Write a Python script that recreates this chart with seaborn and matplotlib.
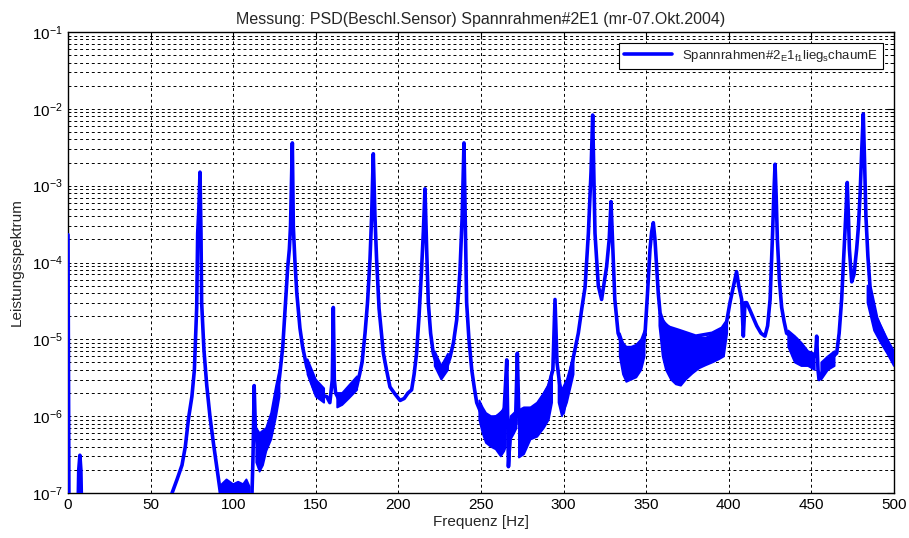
import numpy as np
import pandas as pd
import matplotlib
matplotlib.use('Agg')
import matplotlib.pyplot as plt
import matplotlib.ticker as mticker
import seaborn as sns

# Werte (Frequenz in Hz, PSD)
freq = [0.0, 0.6, 6.0, 6.5, 7.2, 7.8, 8.3,
        61, 63, 66, 69, 71, 73, 75, 76.5, 77.9, 78.5, 79.2, 79.9, 80.2, 80.5, 80.9,
        82.3, 84, 86, 88, 90, 92, 94,
        111, 112, 112.7, 113.5, 115, 117, 119, 121, 124, 126, 127, 128, 129, 130, 131,
        132, 133, 134, 134.7, 135.8, 136.4, 137.4, 138.5, 140.4, 142, 144.5, 147, 149.5,
        153, 156.6, 158.5, 160.0, 160.6, 161.2, 162, 165, 170, 174.7,
        176.5, 178, 179.8, 181.3, 182.8, 183.8, 184.8, 185.8, 186.8, 188.3, 190.9, 192.8,
        194.9, 197.5, 201, 203.5, 205.8, 208, 209.5, 211, 212.5, 214, 215.1, 216.1,
        217.1, 218.1, 219.5, 221.1, 223.5, 226.2, 229, 231.2, 233.3, 235.3, 237.3, 238.6,
        239.7, 240.5, 241.3, 242.7, 244.4, 246, 247.4, 250, 255, 260, 264, 265.6,
        266.6, 268, 271, 272, 273, 276, 283.7, 290.8, 293.5, 294.8, 296, 299.8,
        303.9, 308.9, 311, 313, 315, 316.6, 317.6, 318.3, 319, 321, 323,
        326, 327.6, 328.7, 329.8, 331, 333, 336, 340, 345, 348, 349.3, 350.8,
        352.3, 353.3, 354.3, 355.3, 356.3, 357.3, 358.4, 361, 370, 380, 390,
        396, 398.7, 400.7, 402.7, 404.7, 406, 407.8, 408.8, 409.8, 410.8, 412.8,
        416.9, 419.5, 421.9, 423.5, 425, 426.5, 427.3, 428, 428.7, 429.4, 430.6,
        432, 433.5, 435, 441, 447, 452.5, 453.2, 454, 454.6, 459.2, 465.3,
        466.8, 468.3, 469.3, 470.3, 471, 471.7, 472.4, 473, 474.4, 475.8, 477.4,
        478.5, 479.5, 480.5, 481.4, 482.2, 483, 484.2, 485.5, 487.5, 489.5, 491.5,
        493.5, 496.5, 500]
psd = [2.3e-4, 5e-8, 5e-8, 2e-7, 3.1e-7, 2e-7, 5e-8,
       5e-8, 1.0e-7, 1.5e-7, 2.3e-7, 4e-7, 9.5e-7, 1.8e-6, 4e-6, 2.6e-5, 2.4e-4, 5e-4, 1.5e-3, 6e-4, 2.4e-4, 3e-5,
       7.2e-6, 2.5e-6, 9.6e-7, 4.5e-7, 2.2e-7, 1.1e-7, 5e-8,
       5e-8, 3e-7, 2.5e-6, 6e-7, 4e-7, 3e-7, 5e-7, 6e-7, 1e-6, 1.8e-6, 2.4e-6, 3.2e-6, 5e-6, 8e-6, 1.8e-5,
       4e-5, 8.7e-5, 1.5e-4, 3e-4, 3.6e-3, 2.9e-4, 1e-4, 4e-5, 1.4e-5, 8e-6, 4.4e-6, 3e-6, 2.1e-6,
       1.9e-6, 1.8e-6, 1.5e-6, 3e-6, 2.6e-5, 3e-6, 2e-6, 1.5e-6, 1.9e-6, 2.4e-6,
       3.5e-6, 5e-6, 1.2e-5, 3e-5, 1.1e-4, 4e-4, 2.6e-3, 4e-4, 1.1e-4, 2.5e-5, 6.6e-6, 4e-6,
       2.4e-6, 2e-6, 1.6e-6, 1.7e-6, 2e-6, 2.2e-6, 3.5e-6, 6.6e-6, 2e-5, 8e-5, 2.5e-4, 9.1e-4,
       1.5e-4, 3e-5, 1.2e-5, 6.6e-6, 4.5e-6, 3.6e-6, 4.2e-6, 5.8e-6, 9e-6, 1.8e-5, 8e-5, 4e-4,
       3.6e-3, 3e-4, 3e-5, 1e-5, 4e-6, 2.3e-6, 1.5e-6, 1.1e-6, 9e-7, 1e-6, 1.2e-6, 5.4e-6,
       2.2e-7, 8e-7, 1e-6, 6.6e-6, 8e-7, 1.2e-6, 1.3e-6, 2.4e-6, 4e-6, 3.3e-5, 5e-6, 1.1e-6,
       3.6e-6, 1.2e-5, 2.5e-5, 4.8e-5, 2.4e-4, 1.5e-3, 8.3e-3, 1.5e-3, 2.4e-4, 5e-5, 3.3e-5,
       8.7e-5, 2e-4, 6.2e-4, 1.5e-4, 3.3e-5, 1.2e-5, 8e-6, 6e-6, 6e-6, 8e-6, 1.2e-5, 4e-5,
       1.5e-4, 2.5e-4, 3.3e-4, 2e-4, 8.7e-5, 4e-5, 2.2e-5, 1.5e-5, 1.3e-5, 1.1e-5, 1.2e-5,
       1.4e-5, 1.7e-5, 3e-5, 4.8e-5, 7.6e-5, 5e-5, 3.3e-5, 1.1e-5, 3e-5, 3e-5, 2.4e-5,
       1.5e-5, 1.2e-5, 1.1e-5, 1.5e-5, 3.3e-5, 2.4e-4, 8e-4, 1.9e-3, 7e-4, 2e-4, 6e-5,
       2.6e-5, 1.7e-5, 1.2e-5, 1e-5, 5.8e-6, 6e-6, 1.1e-5, 4e-6, 3e-6, 5e-6, 6.6e-6,
       1.2e-5, 3.3e-5, 9e-5, 2.4e-4, 5e-4, 1.1e-3, 4e-4, 1.5e-4, 5.6e-5, 7e-5, 1.5e-4,
       3e-4, 8e-4, 3e-3, 8.6e-3, 2e-3, 4e-4, 1.2e-4, 4.8e-5, 3e-5, 1.9e-5, 1.5e-5,
       1.2e-5, 8e-6, 5.8e-6]

# Rauschbaender (untere / obere Huellkurve), NaN trennt die Abschnitte
band_freq = [93, 96, 100, 103, 106, 108, 110, np.nan,
             114, 116, 118, 120, 123, 126, 128, np.nan,
             145, 150, 155, np.nan,
             163, 166, 170, 175, np.nan,
             222, 226, 230, np.nan,
             249, 251, 253, 256, 259, 262, 264, 265, np.nan,
             267, 268, 270, 271.5, np.nan,
             273, 276, 280, 284, 288, 291, 293, np.nan,
             297, 299, 302, 306, np.nan,
             334, 336, 338, 341, 344, 347, 349, np.nan,
             358, 360, 362, 365, 368, 371, 374, 378, 382, 386, 390, 394, 397, 399, np.nan,
             436, 440, 444, 448, 452, np.nan,
             456, 460, 464, np.nan,
             484, 488, 492, 496, 500]
band_low = [5e-8, 5e-8, 5e-8, 5e-8, 5e-8, 5e-8, 5e-8, np.nan,
            2.5e-7, 1.9e-7, 2.3e-7, 3.5e-7, 5e-7, 1.0e-6, 1.8e-6, np.nan,
            3.5e-6, 1.8e-6, 1.5e-6, np.nan,
            1.3e-6, 1.4e-6, 1.7e-6, 2.2e-6, np.nan,
            4.5e-6, 3e-6, 4e-6, np.nan,
            9e-7, 6e-7, 4.5e-7, 4e-7, 3.7e-7, 3e-7, 3.5e-7, 4e-7, np.nan,
            2.2e-7, 5e-7, 6e-7, 7e-7, np.nan,
            2.9e-7, 3.2e-7, 5e-7, 5.4e-7, 7e-7, 9e-7, 1.5e-6, np.nan,
            1.5e-6, 1e-6, 1.5e-6, 3.5e-6, np.nan,
            6e-6, 3.5e-6, 2.8e-6, 3e-6, 3.2e-6, 4e-6, 6e-6, np.nan,
            1.5e-5, 6e-6, 4e-6, 3e-6, 2.6e-6, 2.5e-6, 3e-6, 3.6e-6, 4.2e-6, 4.6e-6, 5e-6, 5.5e-6, 6e-6, 1.2e-5, np.nan,
            8e-6, 5e-6, 4.5e-6, 4.5e-6, 4e-6, np.nan,
            3e-6, 4e-6, 4.5e-6, np.nan,
            3e-5, 1.3e-5, 9e-6, 6.5e-6, 4.5e-6]
band_high = [1.3e-7, 1.5e-7, 1.3e-7, 1.4e-7, 1.3e-7, 1.5e-7, 1.2e-7, np.nan,
             7e-7, 6e-7, 6.5e-7, 7e-7, 1.1e-6, 2.5e-6, 4e-6, np.nan,
             5.5e-6, 3e-6, 2.3e-6, np.nan,
             2e-6, 2e-6, 2.5e-6, 3.3e-6, np.nan,
             7e-6, 4.5e-6, 6.5e-6, np.nan,
             1.6e-6, 1.3e-6, 1.1e-6, 1e-6, 1e-6, 1.1e-6, 1.3e-6, 1.3e-6, np.nan,
             8e-7, 1e-6, 1.1e-6, 1.2e-6, np.nan,
             1.2e-6, 1.3e-6, 1.3e-6, 1.5e-6, 2e-6, 2.6e-6, 4e-6, np.nan,
             3e-6, 2.2e-6, 3e-6, 6e-6, np.nan,
             1.2e-5, 9e-6, 8e-6, 8e-6, 8.5e-6, 1e-5, 1.3e-5, np.nan,
             2.2e-5, 1.8e-5, 1.6e-5, 1.4e-5, 1.3e-5, 1.2e-5, 1.15e-5, 1.1e-5, 1.05e-5, 1.05e-5, 1.15e-5, 1.3e-5, 1.4e-5, 1.7e-5, np.nan,
             1.3e-5, 1.1e-5, 9e-6, 7e-6, 6.5e-6, np.nan,
             5e-6, 6e-6, 7e-6, np.nan,
             5e-5, 2.2e-5, 1.5e-5, 1e-5, 7e-6]

y_ticks = [1e-7, 1e-6, 1e-5, 1e-4, 1e-3, 1e-2, 1e-1]
x_ticks = [0, 50, 100, 150, 200, 250, 300, 350, 400, 450, 500]

legend_label = r'Spannrahmen#2$_\mathregular{E}$1$_\mathregular{f1}$lieg$_\mathregular{s}$chaumE'

sns.set_style('white')
plt.rcParams['font.family'] = ['Liberation Sans', 'DejaVu Sans']
plt.rcParams['mathtext.default'] = 'regular'
plt.rcParams['font.size'] = 11

df = pd.DataFrame({'Frequenz': freq, 'PSD': psd})

fig = plt.figure(figsize=(9.09, 5.38), dpi=100)
ax = fig.add_axes([68 / 909, 1 - 493 / 538, 826 / 909, 461 / 538])

sns.lineplot(data=df, x='Frequenz', y='PSD', ax=ax, color='#0000ff', linewidth=2.6,
             sort=False, estimator=None, label=legend_label, zorder=3)
ax.fill_between(band_freq, band_low, band_high, color='#0000ff', linewidth=1.4, edgecolor='#0000ff', zorder=3)

ax.set_yscale('log')
ax.set_xlim(0, 500)
ax.set_ylim(1e-7, 1e-1)
ax.set_xticks(x_ticks)
ax.set_yticks(y_ticks)
ax.yaxis.set_major_formatter(mticker.LogFormatterSciNotation())
minor = [m * 10.0 ** e for e in range(-7, -1) for m in range(2, 10)]
ax.set_yticks(minor, minor=True)
ax.yaxis.set_minor_formatter(mticker.NullFormatter())

ax.grid(True, which='major', axis='both', color='black', linestyle=(0, (3, 3)), linewidth=0.7)
ax.grid(True, which='minor', axis='y', color='black', linestyle=(0, (3, 3)), linewidth=0.7)
ax.set_axisbelow(True)

ax.tick_params(which='both', direction='in', top=True, right=True, labelsize=11, colors='black')
ax.tick_params(which='major', length=5)
ax.tick_params(which='minor', length=3)
for s in ax.spines.values():
    s.set_color('black')
    s.set_linewidth(1.0)

ax.set_title('Messung: PSD(Beschl.Sensor) Spannrahmen#2E1 (mr-07.Okt.2004)', fontsize=11.5, pad=6)
ax.set_xlabel('Frequenz [Hz]', fontsize=11, labelpad=2)
ax.set_ylabel('Leistungsspektrum', fontsize=11, labelpad=6)

leg = ax.legend(loc='upper right', fontsize=9.5, frameon=True, fancybox=False, framealpha=1,
                edgecolor='black', handlelength=3.6, borderaxespad=0.8)
leg.get_frame().set_linewidth(0.8)

fig.savefig('out.png', dpi=100)
